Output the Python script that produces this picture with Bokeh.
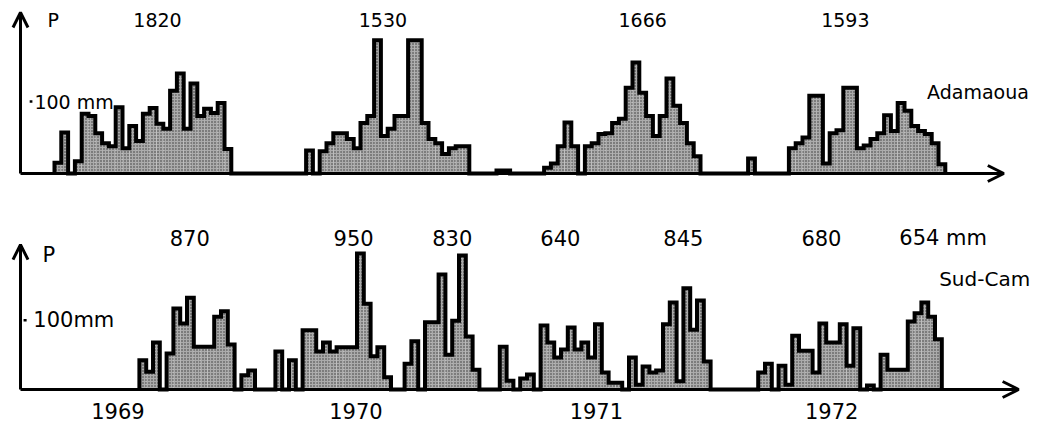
import numpy as np
from bokeh.plotting import figure
from bokeh.models import Range1d, Arrow, OpenHead, Label
from bokeh.layouts import column
from bokeh.embed import file_html
from bokeh.resources import INLINE

# ---------------- data: 10-day (decade) rainfall totals, mm ----------------
years = ["1969", "1970", "1971", "1972"]

adamaoua_1969 = [0, 0, 0, 0, 0, 15, 57, 0, 17, 83, 80, 56, 42, 38, 92, 35, 66, 45, 83, 91,
                 69, 62, 115, 139, 62, 125, 80, 90, 84, 98, 34, 0, 0, 0, 0, 0]
adamaoua_1970 = [0, 0, 0, 0, 0, 0, 32, 0, 31, 42, 56, 56, 48, 35, 70, 80, 185, 52, 62, 80,
                 80, 185, 185, 70, 48, 42, 27, 35, 38, 38, 0, 0, 0, 0, 4, 4]
adamaoua_1971 = [0, 0, 0, 0, 0, 8, 14, 38, 71, 38, 0, 38, 42, 55, 56, 70, 76, 119, 154, 112,
                 80, 52, 80, 132, 94, 70, 42, 24, 0, 0, 0, 0, 0, 0, 0, 21]
adamaoua_1972 = [0, 0, 0, 0, 0, 35, 42, 50, 108, 108, 14, 56, 60, 119, 119, 35, 39, 48, 56, 81,
                 59, 98, 87, 66, 59, 55, 42, 13, 0, 0, 0, 0, 0, 0, 0, 0]
adamaoua_totals = ["1820", "1530", "1666", "1593"]

sudcam_1969 = [0, 0, 0, 0, 0, 0, 0, 0, 0, 0, 0, 0, 0, 0, 0, 0, 0, 0, 0, 0,
               0, 0, 0, 43, 26, 69, 0, 53, 119, 97, 135, 63, 63, 63, 107, 115]
sudcam_1970 = [66, 0, 21, 28, 0, 0, 0, 56, 0, 43, 0, 87, 87, 56, 69, 56, 62, 62, 62, 200,
               126, 49, 62, 18, 0, 0, 38, 71, 0, 99, 99, 169, 51, 101, 197, 78]
sudcam_1971 = [29, 0, 0, 0, 63, 13, 0, 16, 22, 0, 94, 69, 47, 59, 91, 59, 69, 47, 96, 25,
               10, 10, 0, 47, 7, 34, 25, 28, 96, 128, 12, 149, 88, 131, 41, 0]
sudcam_1972 = [0, 0, 0, 0, 0, 0, 25, 38, 0, 35, 7, 79, 57, 57, 25, 97, 69, 69, 96, 35,
               90, 0, 6, 0, 51, 29, 29, 29, 100, 112, 128, 107, 74, 0, 0, 0]
sudcam_totals = ["870", "950", "830", "640", "845", "680", "654 mm"]

# ---------------- layout / style ----------------
W = 1039
PX_PER_DEC = 6.8
FONT = "DejaVu Sans"
FILL = "#ababab"


def make_panel(series, height, origin_px, baseline_px, px_per_mm):
    p = figure(width=W, height=height, output_backend="svg", toolbar_location=None,
               min_border=0, min_border_left=0, min_border_right=0,
               min_border_top=0, min_border_bottom=0,
               x_range=Range1d(-origin_px / PX_PER_DEC, (W - origin_px) / PX_PER_DEC),
               y_range=Range1d(-(height - baseline_px) / px_per_mm, baseline_px / px_per_mm))
    p.axis.visible = False
    p.grid.visible = False
    p.outline_line_color = None
    p.background_fill_color = "white"
    p.border_fill_color = "white"

    v = np.asarray(np.concatenate(series), dtype=float)
    edges = np.arange(len(v) + 1, dtype=float)
    m = v > 0
    p.quad(left=edges[:-1][m], right=edges[1:][m], bottom=0, top=v[m],
           fill_color=FILL, line_color=None,
           hatch_pattern="dot", hatch_color="#333333", hatch_scale=3, hatch_weight=1.2)
    nz = np.nonzero(v)[0]
    a, b = nz[0], nz[-1] + 1
    vv = v[a:b]
    ee = edges[a:b + 1]
    xs = np.concatenate([[ee[0]], np.repeat(ee, 2)[1:-1], [ee[-1]]])
    ys = np.concatenate([[0.0], np.repeat(vv, 2), [0.0]])
    p.line(xs, ys, line_width=4, line_color="black", line_join="miter")
    return p


def lab(p, x, y, text, size, align="center"):
    p.add_layout(Label(x=x, y=y, text=text, text_font=FONT, text_font_size=size,
                       text_align=align, text_baseline="middle", text_color="black"))


def axes(p, ax, ytip, xtip):
    p.add_layout(Arrow(x_start=ax, y_start=0, x_end=ax, y_end=ytip, line_width=3,
                       end=OpenHead(size=15, line_width=3)))
    p.add_layout(Arrow(x_start=ax, y_start=0, x_end=xtip, y_end=0, line_width=3,
                       end=OpenHead(size=16, line_width=3)))


# ---- top panel : Adamaoua ----
p1 = make_panel([adamaoua_1969, adamaoua_1970, adamaoua_1971, adamaoua_1972],
                213, 20, 173, 0.72)
axes(p1, 0, 223.6, 144.6)
p1.segment(x0=[1.35], y0=[100], x1=[1.75], y1=[100], line_width=2.5, line_color="black")
lab(p1, 3.97, 213, "P", "19px", "left")
lab(p1, 2.05, 100, "100 mm", "19px", "left")
lab(p1, 140.8, 113, "Adamaoua", "19px")
for t, x in zip(adamaoua_totals, [20.15, 53.3, 91.5, 121.3]):
    lab(p1, x, 213, t, "19px")

# ---- bottom panel : Sud-Cameroun ----
p2 = make_panel([sudcam_1969, sudcam_1970, sudcam_1971, sudcam_1972],
                216, -17.5, 176, 0.68)
ax2 = (20 + 17.5) / PX_PER_DEC
axes(p2, ax2, 213, 152.3)
p2.segment(x0=[ax2 + 0.45], y0=[102], x1=[ax2 + 0.9], y1=[102], line_width=2.5, line_color="black")
lab(p2, 8.75, 198, "P", "21px", "left")
lab(p2, 7.4, 102, "100mm", "21px", "left")
lab(p2, 147.3, 162.5, "Sud-Cam", "20px")
for t, x in zip(sudcam_totals, [30.4, 54.5, 69.0, 84.9, 103.0, 123.3, 141.2]):
    lab(p2, x, 223, t, "21px")
for t, x in zip(years, [19.85, 54.85, 90.2, 124.8]):
    lab(p2, x, -31.6, t, "21px")

layout = column(p1, p2, spacing=0)
open("out.html", "w").write(file_html(layout, INLINE))
